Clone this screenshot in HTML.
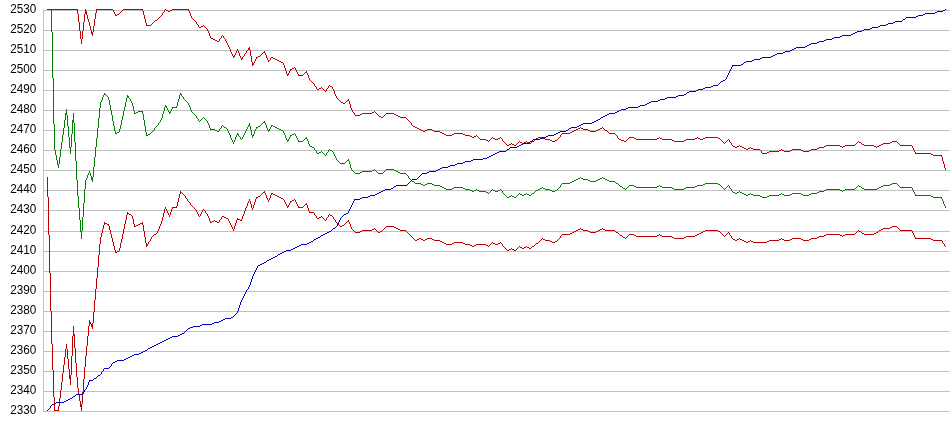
<!DOCTYPE html>
<html><head><meta charset="utf-8"><title>chart</title>
<style>
html,body{margin:0;padding:0;background:#fff;}
body{width:950px;height:435px;overflow:hidden;}
svg{display:block;will-change:transform;}
text{font-family:"Liberation Sans",sans-serif;font-size:12px;fill:#000;}
</style></head><body>
<svg width="950" height="435" viewBox="0 0 950 435">
<rect width="950" height="435" fill="#fff"/>
<g shape-rendering="crispEdges" fill="#c0c0c0">
<rect x="43" y="10" width="907" height="1"/>
<rect x="43" y="30" width="907" height="1"/>
<rect x="43" y="50" width="907" height="1"/>
<rect x="43" y="70" width="907" height="1"/>
<rect x="43" y="90" width="907" height="1"/>
<rect x="43" y="110" width="907" height="1"/>
<rect x="43" y="130" width="907" height="1"/>
<rect x="43" y="150" width="907" height="1"/>
<rect x="43" y="170" width="907" height="1"/>
<rect x="43" y="190" width="907" height="1"/>
<rect x="43" y="210" width="907" height="1"/>
<rect x="43" y="231" width="907" height="1"/>
<rect x="43" y="251" width="907" height="1"/>
<rect x="43" y="271" width="907" height="1"/>
<rect x="43" y="291" width="907" height="1"/>
<rect x="43" y="311" width="907" height="1"/>
<rect x="43" y="331" width="907" height="1"/>
<rect x="43" y="351" width="907" height="1"/>
<rect x="43" y="371" width="907" height="1"/>
<rect x="43" y="391" width="907" height="1"/>
<rect x="43" y="411" width="907" height="1"/>
<rect x="43" y="10" width="1" height="402"/>
</g>
<g>
<text x="10.3" y="13" textLength="26.1" lengthAdjust="spacingAndGlyphs">2530</text>
<text x="10.3" y="33" textLength="26.1" lengthAdjust="spacingAndGlyphs">2520</text>
<text x="10.3" y="53" textLength="26.1" lengthAdjust="spacingAndGlyphs">2510</text>
<text x="10.3" y="73" textLength="26.1" lengthAdjust="spacingAndGlyphs">2500</text>
<text x="10.3" y="93" textLength="26.1" lengthAdjust="spacingAndGlyphs">2490</text>
<text x="10.3" y="113" textLength="26.1" lengthAdjust="spacingAndGlyphs">2480</text>
<text x="10.3" y="133" textLength="26.1" lengthAdjust="spacingAndGlyphs">2470</text>
<text x="10.3" y="153" textLength="26.1" lengthAdjust="spacingAndGlyphs">2460</text>
<text x="10.3" y="173" textLength="26.1" lengthAdjust="spacingAndGlyphs">2450</text>
<text x="10.3" y="193" textLength="26.1" lengthAdjust="spacingAndGlyphs">2440</text>
<text x="10.3" y="213" textLength="26.1" lengthAdjust="spacingAndGlyphs">2430</text>
<text x="10.3" y="234" textLength="26.1" lengthAdjust="spacingAndGlyphs">2420</text>
<text x="10.3" y="254" textLength="26.1" lengthAdjust="spacingAndGlyphs">2410</text>
<text x="10.3" y="274" textLength="26.1" lengthAdjust="spacingAndGlyphs">2400</text>
<text x="10.3" y="294" textLength="26.1" lengthAdjust="spacingAndGlyphs">2390</text>
<text x="10.3" y="314" textLength="26.1" lengthAdjust="spacingAndGlyphs">2380</text>
<text x="10.3" y="334" textLength="26.1" lengthAdjust="spacingAndGlyphs">2370</text>
<text x="10.3" y="354" textLength="26.1" lengthAdjust="spacingAndGlyphs">2360</text>
<text x="10.3" y="374" textLength="26.1" lengthAdjust="spacingAndGlyphs">2350</text>
<text x="10.3" y="394" textLength="26.1" lengthAdjust="spacingAndGlyphs">2340</text>
<text x="10.3" y="414" textLength="26.1" lengthAdjust="spacingAndGlyphs">2330</text>
</g>
<g shape-rendering="crispEdges" stroke="none">
<path fill="#008000" d="M51 9h1v23h-1zM52 32h1v46h-1zM53 78h1v46h-1zM54 124h1v24h-1zM54 147h1v3h-1zM55 150h1v5h-1zM56 155h1v5h-1zM57 160h1v5h-1zM58 164h1v4h-1zM58 165h1v3h-1zM59 157h1v7h-1zM60 149h1v8h-1zM61 142h1v7h-1zM62 135h1v7h-1zM63 128h1v7h-1zM64 120h1v8h-1zM65 113h1v7h-1zM66 109h1v4h-1zM66 109h1v6h-1zM67 115h1v11h-1zM68 126h1v11h-1zM69 137h1v11h-1zM70 147h1v7h-1zM70 148h1v6h-1zM71 134h1v13h-1zM72 120h1v14h-1zM73 113h1v7h-1zM73 113h1v10h-1zM74 123h1v19h-1zM75 142h1v19h-1zM76 161h1v19h-1zM77 180h1v10h-1zM77 189h1v7h-1zM78 196h1v12h-1zM79 208h1v12h-1zM80 220h1v12h-1zM81 231h1v8h-1zM81 232h1v7h-1zM82 217h1v14h-1zM83 203h1v14h-1zM84 189h1v14h-1zM85 180h1v2h-1zM85 181h1v8h-1zM86 178h1v2h-1zM87 175h1v3h-1zM88 173h1v2h-1zM89 171h1v2h-1zM90 173h1v3h-1zM91 176h1v4h-1zM92 177h1v5h-1zM92 180h1v2h-1zM93 167h1v10h-1zM94 157h1v10h-1zM95 147h1v10h-1zM96 138h1v9h-1zM97 128h1v10h-1zM98 118h1v10h-1zM99 108h1v10h-1zM100 102h1v2h-1zM100 103h1v5h-1zM101 100h1v2h-1zM102 97h1v3h-1zM103 95h1v2h-1zM104 93h1v1h-1zM104 93h1v2h-1zM105 94h1v1h-1zM106 95h1v1h-1zM107 96h1v1h-1zM108 97h1v1h-1zM108 97h1v3h-1zM109 100h1v5h-1zM110 105h1v5h-1zM111 110h1v5h-1zM112 115h1v6h-1zM113 121h1v5h-1zM114 126h1v5h-1zM115 131h1v3h-1zM115 133h2v1h-2zM117 132h2v1h-2zM119 129h1v3h-1zM119 131h1v1h-1zM120 125h1v4h-1zM121 120h1v5h-1zM122 116h1v4h-1zM123 111h1v5h-1zM124 107h1v4h-1zM125 102h1v5h-1zM126 98h1v4h-1zM127 95h1v1h-1zM127 95h1v3h-1zM128 96h1v2h-1zM129 98h1v1h-1zM130 99h1v2h-1zM131 101h1v2h-1zM132 103h1v1h-1zM132 103h1v3h-1zM133 106h1v5h-1zM134 111h1v3h-1zM134 113h2v1h-2zM136 112h2v1h-2zM138 111h1v1h-1zM138 111h5v1h-5zM142 111h1v3h-1zM143 114h1v6h-1zM144 120h1v6h-1zM145 126h1v6h-1zM146 132h1v4h-1zM146 135h2v1h-2zM148 134h2v1h-2zM150 133h1v1h-1zM151 132h1v1h-1zM152 131h1v1h-1zM153 130h1v1h-1zM154 128h1v2h-1zM155 127h1v1h-1zM156 126h1v1h-1zM157 125h1v1h-1zM158 123h1v2h-1zM159 122h1v1h-1zM160 120h1v2h-1zM161 118h1v2h-1zM161 119h1v1h-1zM162 114h1v4h-1zM163 111h1v3h-1zM164 107h1v4h-1zM165 105h1v1h-1zM165 105h1v2h-1zM166 106h1v2h-1zM167 108h1v2h-1zM168 110h1v2h-1zM169 112h1v2h-1zM169 113h1v1h-1zM170 111h1v2h-1zM171 109h1v2h-1zM172 107h1v2h-1zM172 107h5v1h-5zM176 106h1v2h-1zM177 102h1v4h-1zM178 99h1v3h-1zM179 95h1v4h-1zM180 93h1v1h-1zM180 93h1v2h-1zM181 94h1v2h-1zM182 96h1v1h-1zM183 97h1v2h-1zM184 99h1v1h-1zM185 100h1v1h-1zM186 101h1v1h-1zM187 102h1v1h-1zM188 103h1v1h-1zM188 103h1v2h-1zM189 105h1v2h-1zM190 107h1v3h-1zM191 110h1v2h-1zM191 111h1v1h-1zM192 112h1v1h-1zM193 113h1v1h-1zM194 114h1v1h-1zM195 115h1v1h-1zM196 116h1v2h-1zM197 118h1v1h-1zM198 119h1v2h-1zM199 121h1v1h-1zM200 120h1v1h-1zM201 119h1v1h-1zM202 118h1v1h-1zM203 117h1v1h-1zM204 118h1v1h-1zM205 119h1v1h-1zM206 120h1v1h-1zM207 121h1v1h-1zM207 121h1v2h-1zM208 123h1v2h-1zM209 125h1v3h-1zM210 128h1v2h-1zM210 129h5v1h-5zM214 129h1v1h-1zM215 130h2v1h-2zM217 131h2v1h-2zM218 131h1v1h-1zM219 129h1v2h-1zM220 128h1v1h-1zM221 126h1v2h-1zM222 125h1v1h-1zM223 126h1v1h-1zM224 127h2v1h-2zM226 128h1v1h-1zM227 129h1v1h-1zM227 129h1v2h-1zM228 131h1v2h-1zM229 133h1v2h-1zM230 135h1v3h-1zM231 138h1v2h-1zM232 140h1v2h-1zM233 142h1v2h-1zM234 140h1v2h-1zM235 137h1v3h-1zM236 135h1v2h-1zM237 133h1v1h-1zM237 133h1v2h-1zM238 134h1v2h-1zM239 136h1v1h-1zM240 137h1v2h-1zM241 139h1v1h-1zM242 137h1v2h-1zM243 135h1v2h-1zM244 133h1v2h-1zM245 131h1v2h-1zM246 129h1v2h-1zM247 127h1v2h-1zM248 125h1v2h-1zM249 123h1v2h-1zM249 123h1v3h-1zM250 126h1v4h-1zM251 130h1v5h-1zM252 135h1v3h-1zM252 136h1v2h-1zM253 134h1v2h-1zM254 131h1v3h-1zM255 129h1v2h-1zM256 127h1v2h-1zM256 127h2v1h-2zM258 126h2v1h-2zM260 125h1v1h-1zM261 124h1v1h-1zM262 123h1v1h-1zM263 122h1v1h-1zM264 121h1v1h-1zM264 121h1v2h-1zM265 123h1v2h-1zM266 125h1v3h-1zM267 128h1v2h-1zM268 130h1v2h-1zM268 131h1v1h-1zM269 129h1v2h-1zM270 127h1v2h-1zM271 125h1v2h-1zM271 125h2v1h-2zM273 126h2v1h-2zM275 127h2v1h-2zM276 127h1v1h-1zM277 128h2v1h-2zM279 129h2v1h-2zM281 130h2v1h-2zM283 131h1v1h-1zM283 131h1v2h-1zM284 133h1v2h-1zM285 135h1v3h-1zM286 138h1v2h-1zM287 140h1v2h-1zM287 141h1v1h-1zM288 139h1v2h-1zM289 137h1v2h-1zM290 135h1v2h-1zM290 135h2v1h-2zM292 134h2v1h-2zM294 133h1v1h-1zM295 134h1v2h-1zM296 136h1v2h-1zM297 138h1v2h-1zM298 140h1v2h-1zM298 141h5v1h-5zM302 141h1v1h-1zM303 140h1v1h-1zM304 139h1v1h-1zM305 138h1v1h-1zM306 137h1v1h-1zM306 137h1v2h-1zM307 139h1v2h-1zM308 141h1v3h-1zM309 144h1v2h-1zM309 145h1v1h-1zM310 146h2v1h-2zM312 147h2v1h-2zM313 147h1v1h-1zM314 148h1v2h-1zM315 150h1v1h-1zM316 151h1v2h-1zM317 153h1v1h-1zM317 153h2v1h-2zM319 152h2v1h-2zM321 151h1v1h-1zM322 152h1v1h-1zM323 153h1v1h-1zM324 154h1v1h-1zM325 155h1v1h-1zM326 153h1v2h-1zM327 152h1v1h-1zM328 150h1v2h-1zM329 149h1v1h-1zM330 150h2v1h-2zM332 151h1v1h-1zM333 152h1v2h-1zM334 154h1v2h-1zM335 156h1v2h-1zM336 158h1v2h-1zM336 159h1v1h-1zM337 160h1v1h-1zM338 161h1v1h-1zM339 162h1v1h-1zM340 163h1v1h-1zM340 163h5v1h-5zM344 163h1v1h-1zM345 162h1v1h-1zM346 161h1v1h-1zM347 160h1v1h-1zM348 159h1v1h-1zM348 159h1v2h-1zM349 161h1v3h-1zM350 164h1v4h-1zM351 168h1v2h-1zM351 169h1v1h-1zM352 170h1v1h-1zM353 171h1v1h-1zM354 172h1v1h-1zM355 173h1v1h-1zM355 173h4v1h-4zM358 173h2v1h-2zM360 172h2v1h-2zM362 171h1v1h-1zM362 171h9v1h-9zM370 171h2v1h-2zM372 170h2v1h-2zM374 169h1v1h-1zM375 170h1v1h-1zM376 171h1v1h-1zM377 172h1v1h-1zM378 173h1v1h-1zM378 173h5v1h-5zM382 173h1v1h-1zM383 172h1v1h-1zM384 171h1v1h-1zM385 170h1v1h-1zM386 169h1v1h-1zM386 169h8v1h-8zM393 169h1v1h-1zM394 170h2v1h-2zM396 171h2v1h-2zM398 172h2v1h-2zM400 173h1v1h-1zM400 173h6v1h-6zM405 173h1v1h-1zM406 174h1v1h-1zM407 175h1v1h-1zM408 176h1v2h-1zM409 178h1v1h-1zM410 179h1v1h-1zM411 180h1v1h-1zM412 181h2v1h-2zM414 182h1v1h-1zM415 183h1v1h-1zM415 183h6v1h-6zM420 183h1v1h-1zM421 184h2v1h-2zM423 185h2v1h-2zM424 185h1v1h-1zM425 184h2v1h-2zM427 183h1v1h-1zM427 183h5v1h-5zM431 183h1v1h-1zM432 184h2v1h-2zM434 185h2v1h-2zM435 185h5v1h-5zM439 185h1v1h-1zM440 186h2v1h-2zM442 187h2v1h-2zM444 188h2v1h-2zM446 189h1v1h-1zM446 189h5v1h-5zM450 189h2v1h-2zM452 188h2v1h-2zM454 187h1v1h-1zM454 187h9v1h-9zM462 187h1v1h-1zM463 188h2v1h-2zM465 189h1v1h-1zM465 189h5v1h-5zM469 189h1v1h-1zM470 190h2v1h-2zM472 191h2v1h-2zM473 191h1v1h-1zM474 190h2v1h-2zM476 189h1v1h-1zM477 190h2v1h-2zM479 191h2v1h-2zM480 191h6v1h-6zM485 191h1v1h-1zM486 192h2v1h-2zM488 193h1v1h-1zM489 192h1v1h-1zM490 191h1v1h-1zM491 190h1v1h-1zM492 189h1v1h-1zM493 190h2v1h-2zM495 191h2v1h-2zM496 191h2v1h-2zM498 190h2v1h-2zM500 189h1v1h-1zM501 190h1v1h-1zM502 191h1v2h-1zM503 193h1v1h-1zM504 194h1v1h-1zM505 195h1v1h-1zM506 196h1v1h-1zM507 197h1v1h-1zM507 197h2v1h-2zM509 196h2v1h-2zM511 195h1v1h-1zM512 196h2v1h-2zM514 197h2v1h-2zM515 197h1v1h-1zM516 196h1v1h-1zM517 195h1v1h-1zM518 194h1v1h-1zM519 193h1v1h-1zM520 194h2v1h-2zM522 195h1v1h-1zM522 195h2v1h-2zM524 194h2v1h-2zM526 193h1v1h-1zM527 194h2v1h-2zM529 195h2v1h-2zM530 195h1v1h-1zM531 194h1v1h-1zM532 193h2v1h-2zM534 192h1v1h-1zM535 191h1v1h-1zM536 190h2v1h-2zM538 189h2v1h-2zM540 188h2v1h-2zM542 187h1v1h-1zM543 188h2v1h-2zM545 189h1v1h-1zM545 189h5v1h-5zM549 189h1v1h-1zM550 190h2v1h-2zM552 191h2v1h-2zM553 191h2v1h-2zM555 190h2v1h-2zM557 189h1v1h-1zM558 188h1v1h-1zM559 187h1v1h-1zM560 185h1v2h-1zM561 184h1v1h-1zM562 183h1v1h-1zM562 183h4v1h-4zM565 183h4v1h-4zM568 183h2v1h-2zM570 182h2v1h-2zM572 181h2v1h-2zM574 180h2v1h-2zM576 179h2v1h-2zM578 178h2v1h-2zM580 177h1v1h-1zM581 178h2v1h-2zM583 179h1v1h-1zM583 179h5v1h-5zM587 179h1v1h-1zM588 180h2v1h-2zM590 181h1v1h-1zM590 181h6v1h-6zM595 181h1v1h-1zM596 180h2v1h-2zM598 179h2v1h-2zM600 178h2v1h-2zM602 177h1v1h-1zM603 178h2v1h-2zM605 179h2v1h-2zM606 179h1v1h-1zM607 180h2v1h-2zM609 181h1v1h-1zM609 181h6v1h-6zM614 181h1v1h-1zM615 182h1v1h-1zM616 183h2v1h-2zM618 184h1v1h-1zM619 185h1v1h-1zM620 186h2v1h-2zM622 187h1v1h-1zM623 188h2v1h-2zM625 189h1v1h-1zM626 188h1v1h-1zM627 187h1v1h-1zM628 186h1v1h-1zM629 185h1v1h-1zM629 185h5v1h-5zM633 185h1v1h-1zM634 186h2v1h-2zM636 187h1v1h-1zM636 187h20v1h-20zM655 187h2v1h-2zM657 186h2v1h-2zM659 185h1v1h-1zM660 186h2v1h-2zM662 187h2v1h-2zM663 187h9v1h-9zM671 187h1v1h-1zM672 188h2v1h-2zM674 189h1v1h-1zM674 189h10v1h-10zM683 189h1v1h-1zM684 188h2v1h-2zM686 187h1v1h-1zM686 187h9v1h-9zM694 187h1v1h-1zM695 186h2v1h-2zM697 185h1v1h-1zM697 185h5v1h-5zM701 185h2v1h-2zM703 184h2v1h-2zM705 183h1v1h-1zM705 183h13v1h-13zM717 183h1v1h-1zM718 184h2v1h-2zM720 185h1v1h-1zM721 186h1v1h-1zM722 187h1v1h-1zM723 188h1v1h-1zM724 189h1v1h-1zM725 188h1v1h-1zM726 187h1v1h-1zM727 186h1v1h-1zM728 185h1v1h-1zM729 186h1v2h-1zM730 188h1v1h-1zM731 189h1v2h-1zM732 191h1v1h-1zM733 192h2v1h-2zM735 193h2v1h-2zM736 193h1v1h-1zM737 192h2v1h-2zM739 191h1v1h-1zM740 192h2v1h-2zM742 193h2v1h-2zM744 194h2v1h-2zM746 195h1v1h-1zM746 195h2v1h-2zM748 194h2v1h-2zM750 193h1v1h-1zM751 194h2v1h-2zM753 195h2v1h-2zM754 195h6v1h-6zM759 195h1v1h-1zM760 196h2v1h-2zM762 197h1v1h-1zM762 197h5v1h-5zM766 197h1v1h-1zM767 196h2v1h-2zM769 195h1v1h-1zM769 195h10v1h-10zM778 195h1v1h-1zM779 194h2v1h-2zM781 193h1v1h-1zM782 194h2v1h-2zM784 195h2v1h-2zM785 195h5v1h-5zM789 195h1v1h-1zM790 194h2v1h-2zM792 193h1v1h-1zM792 193h9v1h-9zM800 193h1v1h-1zM801 194h2v1h-2zM803 195h2v1h-2zM804 195h4v1h-4zM807 195h2v1h-2zM809 194h2v1h-2zM811 193h2v1h-2zM812 193h4v1h-4zM815 193h2v1h-2zM817 192h2v1h-2zM819 191h1v1h-1zM819 191h5v1h-5zM823 191h1v1h-1zM824 190h2v1h-2zM826 189h1v1h-1zM826 189h14v1h-14zM839 189h1v1h-1zM840 190h2v1h-2zM842 191h1v1h-1zM843 190h2v1h-2zM845 189h1v1h-1zM845 189h10v1h-10zM854 189h1v1h-1zM855 188h1v1h-1zM856 187h1v1h-1zM857 186h1v1h-1zM858 185h1v1h-1zM859 186h2v1h-2zM861 187h1v1h-1zM862 188h2v1h-2zM864 189h1v1h-1zM864 189h13v1h-13zM876 189h1v1h-1zM877 188h2v1h-2zM879 187h2v1h-2zM881 186h2v1h-2zM883 185h1v1h-1zM883 185h6v1h-6zM888 185h2v1h-2zM890 184h2v1h-2zM892 183h1v1h-1zM892 183h5v1h-5zM896 183h1v1h-1zM897 184h1v1h-1zM898 185h1v1h-1zM899 186h1v1h-1zM900 187h1v1h-1zM900 187h12v1h-12zM911 187h1v1h-1zM912 188h1v2h-1zM913 190h1v2h-1zM914 192h1v2h-1zM915 194h1v2h-1zM915 195h16v1h-16zM930 195h1v1h-1zM931 196h2v1h-2zM933 197h1v1h-1zM933 197h9v1h-9zM941 197h1v2h-1zM942 199h1v2h-1zM943 201h1v3h-1zM944 204h1v2h-1zM945 206h1v2h-1z"/>
<path fill="#c00000" d="M47 9h31v1h-31zM77 9h1v5h-1zM78 14h1v8h-1zM79 22h1v9h-1zM80 31h1v8h-1zM81 39h1v5h-1zM82 31h1v8h-1zM83 22h1v9h-1zM84 14h1v8h-1zM85 9h1v2h-1zM85 9h1v5h-1zM86 11h1v4h-1zM87 15h1v4h-1zM88 19h1v3h-1zM89 22h1v4h-1zM90 26h1v4h-1zM91 30h1v4h-1zM92 32h1v4h-1zM92 34h1v2h-1zM93 26h1v6h-1zM94 19h1v7h-1zM95 13h1v6h-1zM96 9h1v4h-1zM96 9h17v1h-17zM112 9h1v1h-1zM113 10h1v2h-1zM114 12h1v2h-1zM115 14h1v2h-1zM115 15h2v1h-2zM117 14h2v1h-2zM119 13h1v1h-1zM120 12h1v1h-1zM121 11h1v1h-1zM122 10h1v1h-1zM123 9h1v1h-1zM123 9h20v1h-20zM142 9h1v2h-1zM143 11h1v4h-1zM144 15h1v4h-1zM145 19h1v4h-1zM146 23h1v3h-1zM146 25h5v1h-5zM150 25h1v1h-1zM151 24h1v1h-1zM152 23h1v1h-1zM153 22h1v1h-1zM154 21h1v1h-1zM155 20h2v1h-2zM157 19h1v1h-1zM158 18h1v1h-1zM159 17h1v1h-1zM160 16h1v1h-1zM161 15h1v1h-1zM162 13h1v2h-1zM163 12h1v1h-1zM164 10h1v2h-1zM165 9h1v1h-1zM166 10h2v1h-2zM168 11h2v1h-2zM169 11h1v1h-1zM170 10h2v1h-2zM172 9h1v1h-1zM172 9h17v1h-17zM188 9h1v2h-1zM189 11h1v2h-1zM190 13h1v3h-1zM191 16h1v2h-1zM191 17h1v1h-1zM192 18h1v1h-1zM193 19h1v1h-1zM194 20h1v1h-1zM195 21h1v1h-1zM196 22h1v2h-1zM197 24h1v1h-1zM198 25h1v2h-1zM199 27h1v1h-1zM199 27h2v1h-2zM201 26h2v1h-2zM203 25h1v1h-1zM204 26h1v1h-1zM205 27h1v1h-1zM206 28h1v1h-1zM207 29h1v1h-1zM207 29h1v2h-1zM208 31h1v2h-1zM209 33h1v3h-1zM210 36h1v2h-1zM210 37h1v1h-1zM211 38h2v1h-2zM213 39h2v1h-2zM215 40h2v1h-2zM217 41h2v1h-2zM218 41h1v1h-1zM219 39h1v2h-1zM220 38h1v1h-1zM221 36h1v2h-1zM222 35h1v1h-1zM223 36h1v2h-1zM224 38h1v1h-1zM225 39h1v2h-1zM226 41h1v2h-1zM227 43h1v1h-1zM227 43h1v2h-1zM228 45h1v2h-1zM229 47h1v2h-1zM230 49h1v3h-1zM231 52h1v2h-1zM232 54h1v2h-1zM233 56h1v2h-1zM233 57h1v1h-1zM234 55h1v2h-1zM235 53h1v2h-1zM236 51h1v2h-1zM237 49h1v2h-1zM238 51h1v2h-1zM239 53h1v3h-1zM240 56h1v2h-1zM241 58h1v2h-1zM241 59h1v1h-1zM242 57h1v2h-1zM243 56h1v1h-1zM244 54h1v2h-1zM245 53h1v1h-1zM246 51h1v2h-1zM247 50h1v1h-1zM248 48h1v2h-1zM249 47h1v1h-1zM249 47h1v3h-1zM250 50h1v6h-1zM251 56h1v6h-1zM252 62h1v4h-1zM252 65h1v1h-1zM253 63h1v2h-1zM254 61h1v2h-1zM255 59h1v2h-1zM256 57h1v2h-1zM256 57h2v1h-2zM258 56h2v1h-2zM260 55h1v1h-1zM261 54h1v1h-1zM262 53h1v1h-1zM263 52h1v1h-1zM264 51h1v1h-1zM264 51h1v2h-1zM265 53h1v2h-1zM266 55h1v3h-1zM267 58h1v2h-1zM268 60h1v2h-1zM268 61h1v1h-1zM269 60h1v1h-1zM270 58h1v2h-1zM271 57h1v1h-1zM271 57h2v1h-2zM273 58h2v1h-2zM275 59h2v1h-2zM276 59h1v1h-1zM277 60h2v1h-2zM279 61h2v1h-2zM281 62h2v1h-2zM283 63h1v1h-1zM283 63h1v2h-1zM284 65h1v3h-1zM285 68h1v3h-1zM286 71h1v3h-1zM287 74h1v2h-1zM287 75h1v1h-1zM288 73h1v2h-1zM289 71h1v2h-1zM290 69h1v2h-1zM290 69h2v1h-2zM292 68h2v1h-2zM294 67h1v1h-1zM295 68h1v2h-1zM296 70h1v2h-1zM297 72h1v2h-1zM298 74h1v2h-1zM298 75h5v1h-5zM302 75h1v1h-1zM303 74h1v1h-1zM304 73h1v1h-1zM305 72h1v1h-1zM306 71h1v1h-1zM306 71h1v2h-1zM307 73h1v2h-1zM308 75h1v3h-1zM309 78h1v2h-1zM309 79h1v1h-1zM310 80h1v1h-1zM311 81h1v1h-1zM312 82h1v1h-1zM313 83h1v1h-1zM314 84h1v2h-1zM315 86h1v1h-1zM316 87h1v2h-1zM317 89h1v1h-1zM317 89h2v1h-2zM319 88h2v1h-2zM321 87h1v1h-1zM322 88h1v1h-1zM323 89h1v1h-1zM324 90h1v1h-1zM325 91h1v1h-1zM326 89h1v2h-1zM327 88h1v1h-1zM328 86h1v2h-1zM329 85h1v1h-1zM330 86h2v1h-2zM332 87h1v1h-1zM332 87h1v2h-1zM333 89h1v2h-1zM334 91h1v3h-1zM335 94h1v2h-1zM336 96h1v2h-1zM336 97h1v1h-1zM337 98h1v1h-1zM338 99h1v1h-1zM339 100h1v1h-1zM340 101h1v1h-1zM341 102h2v1h-2zM343 103h2v1h-2zM344 103h1v1h-1zM345 102h1v1h-1zM346 101h1v1h-1zM347 100h1v1h-1zM348 99h1v1h-1zM348 99h1v2h-1zM349 101h1v3h-1zM350 104h1v4h-1zM351 108h1v2h-1zM351 109h1v1h-1zM352 110h1v2h-1zM353 112h1v1h-1zM354 113h1v2h-1zM355 115h1v1h-1zM355 115h4v1h-4zM358 115h2v1h-2zM360 114h2v1h-2zM362 113h1v1h-1zM362 113h9v1h-9zM370 113h2v1h-2zM372 112h2v1h-2zM374 111h1v1h-1zM375 112h1v1h-1zM376 113h1v1h-1zM377 114h1v1h-1zM378 115h1v1h-1zM379 116h2v1h-2zM381 117h2v1h-2zM382 117h1v1h-1zM383 116h1v1h-1zM384 115h1v1h-1zM385 114h1v1h-1zM386 113h1v1h-1zM386 113h8v1h-8zM393 113h1v1h-1zM394 114h2v1h-2zM396 115h2v1h-2zM398 116h2v1h-2zM400 117h1v1h-1zM400 117h6v1h-6zM405 117h1v1h-1zM406 118h1v1h-1zM407 119h1v1h-1zM408 120h1v1h-1zM409 121h1v1h-1zM410 122h1v1h-1zM411 123h1v2h-1zM412 125h1v1h-1zM413 126h2v1h-2zM415 127h2v1h-2zM417 128h2v1h-2zM419 129h2v1h-2zM420 129h1v1h-1zM421 130h2v1h-2zM423 131h2v1h-2zM424 131h1v1h-1zM425 130h2v1h-2zM427 129h1v1h-1zM427 129h5v1h-5zM431 129h1v1h-1zM432 130h2v1h-2zM434 131h2v1h-2zM435 131h5v1h-5zM439 131h1v1h-1zM440 132h2v1h-2zM442 133h2v1h-2zM444 134h2v1h-2zM446 135h1v1h-1zM446 135h5v1h-5zM450 135h2v1h-2zM452 134h2v1h-2zM454 133h1v1h-1zM454 133h9v1h-9zM462 133h1v1h-1zM463 134h2v1h-2zM465 135h1v1h-1zM465 135h5v1h-5zM469 135h1v1h-1zM470 136h2v1h-2zM472 137h2v1h-2zM473 137h1v1h-1zM474 136h2v1h-2zM476 135h1v1h-1zM477 136h1v1h-1zM478 137h1v1h-1zM479 138h1v1h-1zM480 139h1v1h-1zM480 139h6v1h-6zM485 139h1v1h-1zM486 140h2v1h-2zM488 141h1v1h-1zM489 140h1v1h-1zM490 139h1v1h-1zM491 138h1v1h-1zM492 137h1v1h-1zM493 138h2v1h-2zM495 139h2v1h-2zM496 139h2v1h-2zM498 138h2v1h-2zM500 137h1v1h-1zM501 138h1v1h-1zM502 139h1v2h-1zM503 141h1v1h-1zM504 142h1v1h-1zM505 143h1v1h-1zM506 144h1v1h-1zM507 145h1v1h-1zM507 145h2v1h-2zM509 144h2v1h-2zM511 143h1v1h-1zM512 144h2v1h-2zM514 145h2v1h-2zM515 145h1v1h-1zM516 144h1v1h-1zM517 143h1v1h-1zM518 142h1v1h-1zM519 141h1v1h-1zM520 142h2v1h-2zM522 143h1v1h-1zM522 143h2v1h-2zM524 142h2v1h-2zM526 141h1v1h-1zM527 142h2v1h-2zM529 143h2v1h-2zM530 143h1v1h-1zM531 142h1v1h-1zM532 141h2v1h-2zM534 140h1v1h-1zM535 139h1v1h-1zM536 138h2v1h-2zM538 137h1v1h-1zM538 137h5v1h-5zM542 137h1v1h-1zM543 138h2v1h-2zM545 139h1v1h-1zM545 139h5v1h-5zM549 139h1v1h-1zM550 140h2v1h-2zM552 141h2v1h-2zM553 141h2v1h-2zM555 140h2v1h-2zM557 139h1v1h-1zM558 138h1v1h-1zM559 137h1v1h-1zM560 135h1v2h-1zM561 134h1v1h-1zM562 133h1v1h-1zM562 133h7v1h-7zM568 133h2v1h-2zM570 132h2v1h-2zM572 131h2v1h-2zM574 130h2v1h-2zM576 129h2v1h-2zM578 128h2v1h-2zM580 127h1v1h-1zM581 128h2v1h-2zM583 129h1v1h-1zM583 129h5v1h-5zM587 129h1v1h-1zM588 130h2v1h-2zM590 131h1v1h-1zM590 131h6v1h-6zM595 131h1v1h-1zM596 130h2v1h-2zM598 129h2v1h-2zM600 128h2v1h-2zM602 127h1v1h-1zM603 128h1v1h-1zM604 129h1v1h-1zM605 130h2v1h-2zM607 131h1v1h-1zM608 132h1v1h-1zM609 133h1v1h-1zM609 133h6v1h-6zM614 133h1v1h-1zM615 134h1v1h-1zM616 135h1v1h-1zM617 136h1v2h-1zM618 138h1v1h-1zM619 139h1v1h-1zM619 139h2v1h-2zM621 140h3v1h-3zM624 141h2v1h-2zM625 141h1v1h-1zM626 140h1v1h-1zM627 139h1v1h-1zM628 138h1v1h-1zM629 137h1v1h-1zM629 137h5v1h-5zM633 137h1v1h-1zM634 138h2v1h-2zM636 139h1v1h-1zM636 139h20v1h-20zM655 139h2v1h-2zM657 138h2v1h-2zM659 137h1v1h-1zM660 138h2v1h-2zM662 139h2v1h-2zM663 139h9v1h-9zM671 139h1v1h-1zM672 140h2v1h-2zM674 141h1v1h-1zM674 141h10v1h-10zM683 141h1v1h-1zM684 140h2v1h-2zM686 139h1v1h-1zM686 139h9v1h-9zM694 139h1v1h-1zM695 138h2v1h-2zM697 137h1v1h-1zM698 138h2v1h-2zM700 139h2v1h-2zM701 139h2v1h-2zM703 138h2v1h-2zM705 137h1v1h-1zM705 137h13v1h-13zM717 137h1v1h-1zM718 138h2v1h-2zM720 139h1v1h-1zM721 140h1v1h-1zM722 141h1v1h-1zM723 142h1v1h-1zM724 143h1v1h-1zM725 142h1v1h-1zM726 141h1v1h-1zM727 140h1v1h-1zM728 139h1v1h-1zM729 140h1v2h-1zM730 142h1v1h-1zM731 143h1v2h-1zM732 145h1v1h-1zM733 146h2v1h-2zM735 147h2v1h-2zM736 147h1v1h-1zM737 146h2v1h-2zM739 145h1v1h-1zM740 146h2v1h-2zM742 147h2v1h-2zM744 148h2v1h-2zM746 149h1v1h-1zM746 149h2v1h-2zM748 148h2v1h-2zM750 147h1v1h-1zM751 148h2v1h-2zM753 149h2v1h-2zM754 149h6v1h-6zM759 149h1v1h-1zM760 150h1v1h-1zM761 151h1v2h-1zM762 153h1v1h-1zM762 153h5v1h-5zM766 153h1v1h-1zM767 152h2v1h-2zM769 151h1v1h-1zM769 151h10v1h-10zM778 151h1v1h-1zM779 150h2v1h-2zM781 149h1v1h-1zM782 150h2v1h-2zM784 151h2v1h-2zM785 151h5v1h-5zM789 151h1v1h-1zM790 150h2v1h-2zM792 149h1v1h-1zM792 149h9v1h-9zM800 149h1v1h-1zM801 150h2v1h-2zM803 151h2v1h-2zM804 151h4v1h-4zM807 151h2v1h-2zM809 150h2v1h-2zM811 149h2v1h-2zM812 149h4v1h-4zM815 149h2v1h-2zM817 148h2v1h-2zM819 147h1v1h-1zM819 147h5v1h-5zM823 147h1v1h-1zM824 146h2v1h-2zM826 145h1v1h-1zM826 145h14v1h-14zM839 145h1v1h-1zM840 146h2v1h-2zM842 147h1v1h-1zM843 146h2v1h-2zM845 145h1v1h-1zM845 145h10v1h-10zM854 145h1v1h-1zM855 144h1v1h-1zM856 143h1v1h-1zM857 142h1v1h-1zM858 141h1v1h-1zM859 142h2v1h-2zM861 143h1v1h-1zM862 144h2v1h-2zM864 145h1v1h-1zM864 145h10v1h-10zM873 145h1v1h-1zM874 146h2v1h-2zM876 147h1v1h-1zM877 146h2v1h-2zM879 145h2v1h-2zM881 144h2v1h-2zM883 143h1v1h-1zM883 143h6v1h-6zM888 143h2v1h-2zM890 142h2v1h-2zM892 141h1v1h-1zM892 141h5v1h-5zM896 141h1v1h-1zM897 142h1v1h-1zM898 143h1v1h-1zM899 144h1v1h-1zM900 145h1v1h-1zM900 145h12v1h-12zM911 145h1v1h-1zM912 146h1v2h-1zM913 148h1v2h-1zM914 150h1v2h-1zM915 152h1v2h-1zM915 153h16v1h-16zM930 153h1v1h-1zM931 154h2v1h-2zM933 155h1v1h-1zM933 155h9v1h-9zM941 155h1v2h-1zM942 157h1v4h-1zM943 161h1v3h-1zM944 164h1v4h-1zM945 168h1v2h-1z"/>
<path fill="#c00000" d="M47 177h1v20h-1zM48 197h1v38h-1zM49 235h1v38h-1zM50 273h1v38h-1zM51 311h1v20h-1zM51 330h1v14h-1zM52 344h1v26h-1zM53 370h1v27h-1zM54 397h1v14h-1zM54 410h5v1h-5zM58 406h1v5h-1zM59 398h1v8h-1zM60 390h1v8h-1zM61 382h1v8h-1zM62 373h1v9h-1zM63 365h1v8h-1zM64 357h1v8h-1zM65 349h1v8h-1zM66 344h1v5h-1zM67 349h1v10h-1zM68 359h1v10h-1zM69 369h1v10h-1zM70 375h1v10h-1zM70 379h1v6h-1zM71 356h1v19h-1zM72 336h1v20h-1zM73 326h1v8h-1zM73 326h1v10h-1zM74 334h1v14h-1zM75 348h1v15h-1zM76 363h1v14h-1zM77 377h1v8h-1zM77 384h1v4h-1zM78 388h1v6h-1zM79 394h1v7h-1zM80 401h1v6h-1zM81 404h1v7h-1zM81 407h1v4h-1zM82 392h1v12h-1zM83 379h1v13h-1zM84 367h1v12h-1zM85 356h1v5h-1zM85 360h1v7h-1zM86 346h1v10h-1zM87 336h1v10h-1zM88 326h1v10h-1zM89 320h1v2h-1zM89 320h1v6h-1zM90 322h1v2h-1zM91 324h1v3h-1zM92 323h1v6h-1zM92 327h1v2h-1zM93 312h1v11h-1zM94 300h1v12h-1zM95 289h1v11h-1zM96 278h1v11h-1zM97 267h1v11h-1zM98 255h1v12h-1zM99 244h1v11h-1zM100 237h1v2h-1zM100 238h1v6h-1zM101 233h1v4h-1zM102 229h1v4h-1zM103 225h1v4h-1zM104 222h1v1h-1zM104 222h1v3h-1zM105 223h2v1h-2zM107 224h2v1h-2zM108 224h1v2h-1zM109 226h1v4h-1zM110 230h1v4h-1zM111 234h1v4h-1zM112 238h1v4h-1zM113 242h1v4h-1zM114 246h1v4h-1zM115 250h1v3h-1zM115 252h2v1h-2zM117 251h2v1h-2zM119 248h1v3h-1zM119 250h1v1h-1zM120 243h1v5h-1zM121 239h1v4h-1zM122 234h1v5h-1zM123 229h1v5h-1zM124 224h1v5h-1zM125 220h1v4h-1zM126 215h1v5h-1zM127 212h1v1h-1zM127 212h1v3h-1zM128 213h1v1h-1zM129 214h2v1h-2zM131 215h1v1h-1zM132 216h1v1h-1zM132 216h1v3h-1zM133 219h1v5h-1zM134 224h1v3h-1zM134 226h2v1h-2zM136 225h2v1h-2zM138 224h2v1h-2zM140 223h2v1h-2zM142 222h1v1h-1zM142 222h1v3h-1zM143 225h1v6h-1zM144 231h1v6h-1zM145 237h1v6h-1zM146 243h1v4h-1zM146 246h1v1h-1zM147 244h1v2h-1zM148 242h1v2h-1zM149 241h1v1h-1zM150 239h1v2h-1zM151 237h1v2h-1zM152 236h1v1h-1zM153 235h1v1h-1zM154 234h2v1h-2zM156 233h1v1h-1zM157 231h1v2h-1zM157 232h1v1h-1zM158 229h1v2h-1zM159 226h1v3h-1zM160 224h1v2h-1zM161 221h1v2h-1zM161 222h1v2h-1zM162 217h1v4h-1zM163 213h1v4h-1zM164 209h1v4h-1zM165 207h1v2h-1zM166 209h1v2h-1zM167 211h1v2h-1zM168 213h1v2h-1zM169 215h1v2h-1zM170 212h1v3h-1zM171 209h1v3h-1zM172 207h1v2h-1zM172 207h5v1h-5zM176 206h1v2h-1zM177 202h1v4h-1zM178 198h1v4h-1zM179 194h1v4h-1zM180 191h1v1h-1zM180 191h1v3h-1zM181 192h1v1h-1zM182 193h1v1h-1zM183 194h1v1h-1zM184 195h1v1h-1zM185 196h1v2h-1zM186 198h1v1h-1zM187 199h1v2h-1zM188 201h1v1h-1zM189 202h1v1h-1zM190 203h1v2h-1zM191 205h1v1h-1zM192 206h1v1h-1zM193 207h1v1h-1zM194 208h1v1h-1zM195 209h1v1h-1zM196 210h1v2h-1zM197 212h1v2h-1zM198 214h1v2h-1zM199 216h1v1h-1zM200 214h1v2h-1zM201 212h1v2h-1zM202 210h1v2h-1zM203 209h1v1h-1zM204 210h1v1h-1zM205 211h1v2h-1zM206 213h1v1h-1zM207 214h1v1h-1zM207 214h1v2h-1zM208 216h1v2h-1zM209 218h1v3h-1zM210 221h1v2h-1zM210 222h2v1h-2zM212 221h2v1h-2zM214 220h1v1h-1zM215 221h2v1h-2zM217 222h2v1h-2zM218 222h1v1h-1zM219 220h1v2h-1zM220 219h1v1h-1zM221 217h1v2h-1zM222 216h1v1h-1zM222 216h2v1h-2zM224 217h2v1h-2zM226 218h2v1h-2zM227 218h1v1h-1zM228 219h1v2h-1zM229 221h1v2h-1zM230 223h1v2h-1zM231 225h1v2h-1zM232 227h1v2h-1zM233 229h1v2h-1zM234 226h1v3h-1zM235 223h1v3h-1zM236 220h1v3h-1zM237 218h1v1h-1zM237 218h1v2h-1zM238 219h2v1h-2zM240 220h2v1h-2zM241 219h1v2h-1zM242 216h1v3h-1zM243 214h1v2h-1zM244 211h1v3h-1zM245 208h1v2h-1zM245 209h1v2h-1zM246 206h1v2h-1zM247 203h1v3h-1zM248 201h1v2h-1zM249 199h1v2h-1zM250 201h1v3h-1zM251 204h1v4h-1zM252 208h1v2h-1zM253 205h1v3h-1zM254 202h1v3h-1zM255 199h1v3h-1zM256 197h1v2h-1zM256 197h2v1h-2zM258 196h2v1h-2zM260 195h1v1h-1zM261 194h1v1h-1zM262 193h1v1h-1zM263 192h1v1h-1zM264 191h1v1h-1zM264 191h1v2h-1zM265 193h1v2h-1zM266 195h1v3h-1zM267 198h1v2h-1zM268 200h1v2h-1zM269 198h1v2h-1zM270 195h1v3h-1zM271 193h1v2h-1zM271 193h2v1h-2zM273 194h2v1h-2zM275 195h2v1h-2zM276 195h1v1h-1zM277 196h2v1h-2zM279 197h2v1h-2zM281 198h2v1h-2zM283 199h1v1h-1zM284 200h1v2h-1zM285 202h1v2h-1zM286 204h1v2h-1zM287 206h1v2h-1zM287 207h1v1h-1zM288 205h1v2h-1zM289 203h1v2h-1zM290 201h1v2h-1zM290 201h2v1h-2zM292 200h2v1h-2zM294 199h1v1h-1zM295 200h1v2h-1zM296 202h1v2h-1zM297 204h1v2h-1zM298 206h1v2h-1zM298 207h5v1h-5zM302 207h1v1h-1zM303 206h1v1h-1zM304 205h1v1h-1zM305 204h1v1h-1zM306 203h1v1h-1zM306 203h1v2h-1zM307 205h1v3h-1zM308 208h1v3h-1zM309 211h1v2h-1zM309 212h5v1h-5zM313 212h1v1h-1zM314 213h1v2h-1zM315 215h1v1h-1zM316 216h1v2h-1zM317 218h1v1h-1zM317 218h2v1h-2zM319 217h2v1h-2zM321 216h1v1h-1zM322 217h1v1h-1zM323 218h1v1h-1zM324 219h1v1h-1zM325 220h1v1h-1zM326 218h1v2h-1zM327 217h1v1h-1zM328 215h1v2h-1zM329 214h1v1h-1zM330 215h2v1h-2zM332 216h1v1h-1zM333 217h1v2h-1zM334 219h1v1h-1zM335 220h1v2h-1zM336 222h1v1h-1zM337 223h1v1h-1zM338 224h1v1h-1zM339 225h1v1h-1zM340 226h1v1h-1zM340 226h2v1h-2zM342 225h2v1h-2zM344 224h1v1h-1zM345 223h1v1h-1zM346 222h1v1h-1zM347 221h1v1h-1zM348 220h1v1h-1zM348 220h1v2h-1zM349 222h1v2h-1zM350 224h1v3h-1zM351 227h1v2h-1zM351 228h1v1h-1zM352 229h1v1h-1zM353 230h1v1h-1zM354 231h1v1h-1zM355 232h1v1h-1zM355 232h4v1h-4zM358 232h2v1h-2zM360 231h2v1h-2zM362 230h1v1h-1zM362 230h9v1h-9zM370 230h2v1h-2zM372 229h2v1h-2zM374 228h1v1h-1zM375 229h1v1h-1zM376 230h1v1h-1zM377 231h1v1h-1zM378 232h1v1h-1zM378 232h2v1h-2zM380 231h2v1h-2zM382 230h1v1h-1zM383 229h1v1h-1zM384 228h1v1h-1zM385 227h1v1h-1zM386 226h1v1h-1zM386 226h8v1h-8zM393 226h1v1h-1zM394 227h2v1h-2zM396 228h2v1h-2zM398 229h2v1h-2zM400 230h1v1h-1zM400 230h6v1h-6zM405 230h1v1h-1zM406 231h1v1h-1zM407 232h1v1h-1zM408 233h1v1h-1zM409 234h1v1h-1zM410 235h1v1h-1zM411 236h1v1h-1zM412 237h1v1h-1zM413 238h1v1h-1zM414 239h1v1h-1zM415 240h1v1h-1zM415 240h2v1h-2zM417 239h2v1h-2zM419 238h2v1h-2zM420 238h1v1h-1zM421 239h2v1h-2zM423 240h2v1h-2zM424 240h1v1h-1zM425 239h2v1h-2zM427 238h1v1h-1zM427 238h5v1h-5zM431 238h1v1h-1zM432 239h2v1h-2zM434 240h2v1h-2zM435 240h5v1h-5zM439 240h1v1h-1zM440 241h2v1h-2zM442 242h2v1h-2zM444 243h2v1h-2zM446 244h1v1h-1zM446 244h5v1h-5zM450 244h2v1h-2zM452 243h2v1h-2zM454 242h1v1h-1zM454 242h9v1h-9zM462 242h1v1h-1zM463 243h2v1h-2zM465 244h1v1h-1zM465 244h5v1h-5zM469 244h1v1h-1zM470 245h2v1h-2zM472 246h2v1h-2zM473 246h1v1h-1zM474 245h2v1h-2zM476 244h1v1h-1zM476 244h10v1h-10zM485 244h1v1h-1zM486 245h2v1h-2zM488 246h1v1h-1zM489 245h1v1h-1zM490 244h1v1h-1zM491 243h1v1h-1zM492 242h1v1h-1zM493 243h2v1h-2zM495 244h2v1h-2zM496 244h2v1h-2zM498 243h2v1h-2zM500 242h1v1h-1zM501 243h1v1h-1zM502 244h1v2h-1zM503 246h1v1h-1zM504 247h1v1h-1zM505 248h1v1h-1zM506 249h1v1h-1zM507 250h1v1h-1zM507 250h2v1h-2zM509 249h2v1h-2zM511 248h1v1h-1zM512 249h2v1h-2zM514 250h2v1h-2zM515 250h1v1h-1zM516 249h1v1h-1zM517 248h1v1h-1zM518 247h1v1h-1zM519 246h1v1h-1zM520 247h2v1h-2zM522 248h1v1h-1zM522 248h2v1h-2zM524 247h2v1h-2zM526 246h1v1h-1zM527 247h2v1h-2zM529 248h2v1h-2zM530 248h1v1h-1zM531 247h1v1h-1zM532 246h2v1h-2zM534 245h1v1h-1zM535 244h1v1h-1zM536 243h2v1h-2zM538 242h1v1h-1zM539 241h1v1h-1zM540 240h1v1h-1zM541 239h1v1h-1zM542 238h1v1h-1zM543 239h2v1h-2zM545 240h1v1h-1zM545 240h5v1h-5zM549 240h1v1h-1zM550 241h2v1h-2zM552 242h2v1h-2zM553 242h2v1h-2zM555 241h2v1h-2zM557 240h1v1h-1zM558 239h1v1h-1zM559 238h1v1h-1zM560 236h1v2h-1zM561 235h1v1h-1zM562 234h1v1h-1zM562 234h4v1h-4zM565 234h4v1h-4zM568 234h2v1h-2zM570 233h2v1h-2zM572 232h2v1h-2zM574 231h2v1h-2zM576 230h2v1h-2zM578 229h2v1h-2zM580 228h1v1h-1zM581 229h2v1h-2zM583 230h1v1h-1zM583 230h5v1h-5zM587 230h1v1h-1zM588 231h2v1h-2zM590 232h1v1h-1zM590 232h6v1h-6zM595 232h1v1h-1zM596 231h2v1h-2zM598 230h2v1h-2zM600 229h2v1h-2zM602 228h1v1h-1zM603 229h2v1h-2zM605 230h2v1h-2zM606 230h9v1h-9zM614 230h1v1h-1zM615 231h1v1h-1zM616 232h2v1h-2zM618 233h1v1h-1zM619 234h1v1h-1zM620 235h2v1h-2zM622 236h1v1h-1zM623 237h2v1h-2zM625 238h1v1h-1zM626 237h1v1h-1zM627 236h1v1h-1zM628 235h1v1h-1zM629 234h1v1h-1zM629 234h5v1h-5zM633 234h1v1h-1zM634 235h2v1h-2zM636 236h1v1h-1zM636 236h20v1h-20zM655 236h2v1h-2zM657 235h2v1h-2zM659 234h1v1h-1zM660 235h2v1h-2zM662 236h2v1h-2zM663 236h9v1h-9zM671 236h1v1h-1zM672 237h2v1h-2zM674 238h1v1h-1zM674 238h10v1h-10zM683 238h1v1h-1zM684 237h2v1h-2zM686 236h1v1h-1zM686 236h9v1h-9zM694 236h1v1h-1zM695 235h2v1h-2zM697 234h2v1h-2zM699 233h2v1h-2zM701 232h2v1h-2zM703 231h2v1h-2zM705 230h1v1h-1zM705 230h13v1h-13zM717 230h1v1h-1zM718 231h2v1h-2zM720 232h1v1h-1zM721 233h1v1h-1zM722 234h1v1h-1zM723 235h1v1h-1zM724 236h1v1h-1zM725 235h1v1h-1zM726 234h1v1h-1zM727 233h1v1h-1zM728 232h1v1h-1zM729 233h1v2h-1zM730 235h1v1h-1zM731 236h1v2h-1zM732 238h1v1h-1zM733 239h2v1h-2zM735 240h2v1h-2zM736 240h1v1h-1zM737 239h2v1h-2zM739 238h1v1h-1zM740 239h2v1h-2zM742 240h2v1h-2zM744 241h2v1h-2zM746 242h1v1h-1zM746 242h2v1h-2zM748 241h2v1h-2zM750 240h1v1h-1zM751 241h2v1h-2zM753 242h2v1h-2zM754 242h13v1h-13zM766 242h1v1h-1zM767 241h2v1h-2zM769 240h1v1h-1zM769 240h10v1h-10zM778 240h1v1h-1zM779 239h2v1h-2zM781 238h1v1h-1zM782 239h2v1h-2zM784 240h2v1h-2zM785 240h5v1h-5zM789 240h1v1h-1zM790 239h2v1h-2zM792 238h1v1h-1zM792 238h9v1h-9zM800 238h1v1h-1zM801 239h2v1h-2zM803 240h2v1h-2zM804 240h4v1h-4zM807 240h2v1h-2zM809 239h2v1h-2zM811 238h2v1h-2zM812 238h4v1h-4zM815 238h2v1h-2zM817 237h2v1h-2zM819 236h1v1h-1zM819 236h5v1h-5zM823 236h1v1h-1zM824 235h2v1h-2zM826 234h1v1h-1zM826 234h14v1h-14zM839 234h1v1h-1zM840 235h2v1h-2zM842 236h1v1h-1zM843 235h2v1h-2zM845 234h1v1h-1zM845 234h10v1h-10zM854 234h1v1h-1zM855 233h1v1h-1zM856 232h1v1h-1zM857 231h1v1h-1zM858 230h1v1h-1zM859 231h2v1h-2zM861 232h1v1h-1zM862 233h2v1h-2zM864 234h1v1h-1zM864 234h10v1h-10zM873 234h1v1h-1zM874 233h2v1h-2zM876 232h2v1h-2zM878 231h1v1h-1zM879 230h2v1h-2zM881 229h2v1h-2zM883 228h1v1h-1zM883 228h6v1h-6zM888 228h2v1h-2zM890 227h2v1h-2zM892 226h1v1h-1zM892 226h5v1h-5zM896 226h1v1h-1zM897 227h1v1h-1zM898 228h1v1h-1zM899 229h1v1h-1zM900 230h1v1h-1zM900 230h12v1h-12zM911 230h1v1h-1zM912 231h1v2h-1zM913 233h1v2h-1zM914 235h1v2h-1zM915 237h1v2h-1zM915 238h16v1h-16zM930 238h1v1h-1zM931 239h2v1h-2zM933 240h1v1h-1zM933 240h9v1h-9zM941 240h1v1h-1zM942 241h1v2h-1zM943 243h1v1h-1zM944 244h1v2h-1zM945 246h1v1h-1z"/>
<path fill="#0000c0" d="M47 410h1v1h-1zM48 409h1v1h-1zM49 408h1v1h-1zM50 406h1v2h-1zM51 405h1v1h-1zM52 404h1v1h-1zM52 404h2v1h-2zM54 403h2v1h-2zM56 402h1v1h-1zM56 402h7v1h-7zM62 402h2v1h-2zM64 401h2v1h-2zM66 400h2v1h-2zM68 399h2v1h-2zM70 398h2v1h-2zM71 398h1v1h-1zM72 397h1v1h-1zM73 396h2v1h-2zM75 395h1v1h-1zM76 394h1v1h-1zM76 394h7v1h-7zM82 394h1v1h-1zM83 392h1v2h-1zM84 390h1v1h-1zM84 390h1v2h-1zM85 389h1v1h-1zM86 387h1v2h-1zM87 385h1v2h-1zM87 386h1v1h-1zM88 382h1v3h-1zM89 380h1v2h-1zM89 380h4v1h-4zM92 380h1v1h-1zM93 379h1v1h-1zM94 378h2v1h-2zM96 377h1v1h-1zM97 376h1v1h-1zM98 375h2v1h-2zM100 374h1v1h-1zM101 372h1v2h-1zM102 371h1v1h-1zM103 369h1v2h-1zM104 368h1v1h-1zM104 368h5v1h-5zM108 368h1v1h-1zM109 367h1v1h-1zM110 366h1v1h-1zM111 364h1v2h-1zM112 363h1v1h-1zM113 362h1v1h-1zM113 362h2v1h-2zM115 361h2v1h-2zM117 360h2v1h-2zM118 360h6v1h-6zM123 360h1v1h-1zM124 359h2v1h-2zM126 358h2v1h-2zM128 357h2v1h-2zM130 356h2v1h-2zM132 355h2v1h-2zM134 354h1v1h-1zM134 354h5v1h-5zM138 354h1v1h-1zM139 353h2v1h-2zM141 352h2v1h-2zM143 351h2v1h-2zM145 350h2v1h-2zM147 349h1v1h-1zM148 348h2v1h-2zM150 347h2v1h-2zM152 346h2v1h-2zM154 345h2v1h-2zM156 344h1v1h-1zM156 344h2v1h-2zM158 343h2v1h-2zM160 342h2v1h-2zM162 341h2v1h-2zM164 340h2v1h-2zM165 340h1v1h-1zM166 339h2v1h-2zM168 338h2v1h-2zM170 337h2v1h-2zM172 336h1v1h-1zM172 336h5v1h-5zM176 336h2v1h-2zM178 335h2v1h-2zM180 334h2v1h-2zM182 333h2v1h-2zM184 332h1v1h-1zM185 331h1v1h-1zM186 330h1v1h-1zM187 329h1v1h-1zM188 328h1v1h-1zM188 328h2v1h-2zM190 327h3v1h-3zM193 326h2v1h-2zM194 326h6v1h-6zM199 326h1v1h-1zM200 325h2v1h-2zM202 324h1v1h-1zM202 324h9v1h-9zM210 324h2v1h-2zM212 323h2v1h-2zM214 322h1v1h-1zM214 322h5v1h-5zM218 322h1v1h-1zM219 321h2v1h-2zM221 320h2v1h-2zM223 319h2v1h-2zM225 318h1v1h-1zM225 318h6v1h-6zM230 318h1v1h-1zM231 317h2v1h-2zM233 316h1v1h-1zM234 315h1v1h-1zM235 314h1v1h-1zM236 313h1v1h-1zM237 311h1v2h-1zM237 312h1v1h-1zM238 308h1v3h-1zM239 305h1v3h-1zM240 302h1v3h-1zM241 300h1v1h-1zM241 300h1v2h-1zM242 298h1v2h-1zM243 296h1v2h-1zM244 294h1v2h-1zM245 292h1v1h-1zM245 292h1v2h-1zM246 290h1v2h-1zM247 289h1v1h-1zM248 287h1v2h-1zM249 285h1v2h-1zM249 286h1v1h-1zM250 282h1v3h-1zM251 279h1v3h-1zM252 276h1v3h-1zM253 274h1v1h-1zM253 274h1v2h-1zM254 272h1v2h-1zM255 270h1v2h-1zM256 268h1v2h-1zM257 266h1v1h-1zM257 266h1v2h-1zM258 265h2v1h-2zM260 264h2v1h-2zM262 263h2v1h-2zM264 262h2v1h-2zM266 261h1v1h-1zM267 260h2v1h-2zM269 259h2v1h-2zM271 258h2v1h-2zM273 257h2v1h-2zM275 256h2v1h-2zM277 255h1v1h-1zM278 254h2v1h-2zM280 253h2v1h-2zM282 252h2v1h-2zM284 251h2v1h-2zM286 250h1v1h-1zM286 250h5v1h-5zM290 250h1v1h-1zM291 249h2v1h-2zM293 248h2v1h-2zM295 247h2v1h-2zM297 246h2v1h-2zM299 245h2v1h-2zM301 244h1v1h-1zM301 244h6v1h-6zM306 244h1v1h-1zM307 243h2v1h-2zM309 242h2v1h-2zM311 241h2v1h-2zM313 240h1v1h-1zM314 239h2v1h-2zM316 238h2v1h-2zM318 237h2v1h-2zM320 236h1v1h-1zM321 235h2v1h-2zM323 234h2v1h-2zM325 233h2v1h-2zM327 232h2v1h-2zM329 231h2v1h-2zM331 230h1v1h-1zM332 229h1v1h-1zM333 228h2v1h-2zM335 227h1v1h-1zM336 226h1v1h-1zM337 224h1v2h-1zM338 222h1v2h-1zM339 220h1v2h-1zM340 218h1v1h-1zM340 218h1v2h-1zM341 217h1v1h-1zM342 216h1v1h-1zM343 215h1v1h-1zM344 214h1v1h-1zM344 214h2v1h-2zM346 213h2v1h-2zM348 211h1v2h-1zM348 212h1v1h-1zM349 209h1v2h-1zM350 207h1v2h-1zM351 205h1v1h-1zM351 205h1v2h-1zM352 203h1v2h-1zM353 201h1v2h-1zM354 199h1v2h-1zM354 199h5v1h-5zM358 199h2v1h-2zM360 198h2v1h-2zM362 197h1v1h-1zM362 197h6v1h-6zM367 197h1v1h-1zM368 196h2v1h-2zM370 195h1v1h-1zM370 195h5v1h-5zM374 195h1v1h-1zM375 194h2v1h-2zM377 193h2v1h-2zM379 192h2v1h-2zM381 191h2v1h-2zM383 190h2v1h-2zM385 189h1v1h-1zM385 189h6v1h-6zM390 189h1v1h-1zM391 188h2v1h-2zM393 187h1v1h-1zM394 186h2v1h-2zM396 185h1v1h-1zM396 185h11v1h-11zM406 185h1v1h-1zM407 184h1v1h-1zM408 183h1v1h-1zM409 182h1v1h-1zM410 181h1v1h-1zM411 180h1v1h-1zM412 179h1v1h-1zM412 179h5v1h-5zM416 179h1v1h-1zM417 178h1v1h-1zM418 177h1v1h-1zM419 176h1v1h-1zM420 175h1v1h-1zM421 174h1v1h-1zM422 173h1v1h-1zM422 173h5v1h-5zM426 173h1v1h-1zM427 172h2v1h-2zM429 171h1v1h-1zM429 171h7v1h-7zM435 171h1v1h-1zM436 170h2v1h-2zM438 169h2v1h-2zM440 168h2v1h-2zM442 167h1v1h-1zM442 167h6v1h-6zM447 167h1v1h-1zM448 166h2v1h-2zM450 165h1v1h-1zM450 165h5v1h-5zM454 165h1v1h-1zM455 164h2v1h-2zM457 163h1v1h-1zM457 163h5v1h-5zM461 163h2v1h-2zM463 162h2v1h-2zM465 161h1v1h-1zM465 161h5v1h-5zM469 161h2v1h-2zM471 160h2v1h-2zM473 159h1v1h-1zM473 159h8v1h-8zM480 159h3v1h-3zM483 158h4v1h-4zM487 157h2v1h-2zM488 157h1v1h-1zM489 156h2v1h-2zM491 155h2v1h-2zM493 154h2v1h-2zM495 153h2v1h-2zM497 152h2v1h-2zM499 151h1v1h-1zM499 151h7v1h-7zM505 151h1v1h-1zM506 150h1v1h-1zM507 149h2v1h-2zM509 148h1v1h-1zM510 147h1v1h-1zM510 147h6v1h-6zM515 147h2v1h-2zM517 146h2v1h-2zM519 145h2v1h-2zM521 144h2v1h-2zM523 143h1v1h-1zM523 143h6v1h-6zM528 143h1v1h-1zM529 142h1v1h-1zM530 141h2v1h-2zM532 140h1v1h-1zM533 139h1v1h-1zM533 139h6v1h-6zM538 139h2v1h-2zM540 138h3v1h-3zM543 137h2v1h-2zM544 137h2v1h-2zM546 136h2v1h-2zM548 135h1v1h-1zM548 135h6v1h-6zM553 135h1v1h-1zM554 134h2v1h-2zM556 133h2v1h-2zM558 132h2v1h-2zM560 131h1v1h-1zM560 131h6v1h-6zM565 131h1v1h-1zM566 130h2v1h-2zM568 129h1v1h-1zM569 128h2v1h-2zM571 127h1v1h-1zM571 127h6v1h-6zM576 127h1v1h-1zM577 126h2v1h-2zM579 125h2v1h-2zM581 124h2v1h-2zM583 123h1v1h-1zM583 123h9v1h-9zM591 123h1v1h-1zM592 122h2v1h-2zM594 121h2v1h-2zM596 120h2v1h-2zM598 119h2v1h-2zM600 118h1v1h-1zM601 117h2v1h-2zM603 116h2v1h-2zM605 115h2v1h-2zM607 114h2v1h-2zM609 113h1v1h-1zM609 113h6v1h-6zM614 113h1v1h-1zM615 112h2v1h-2zM617 111h2v1h-2zM619 110h2v1h-2zM621 109h1v1h-1zM621 109h4v1h-4zM624 109h2v1h-2zM626 108h2v1h-2zM628 107h1v1h-1zM628 107h9v1h-9zM636 107h2v1h-2zM638 106h2v1h-2zM640 105h2v1h-2zM641 105h4v1h-4zM644 105h1v1h-1zM645 104h2v1h-2zM647 103h2v1h-2zM649 102h2v1h-2zM651 101h1v1h-1zM651 101h6v1h-6zM656 101h2v1h-2zM658 100h2v1h-2zM660 99h1v1h-1zM660 99h5v1h-5zM664 99h1v1h-1zM665 98h2v1h-2zM667 97h1v1h-1zM667 97h8v1h-8zM674 97h2v1h-2zM676 96h2v1h-2zM678 95h2v1h-2zM679 95h5v1h-5zM683 95h1v1h-1zM684 94h2v1h-2zM686 93h1v1h-1zM687 92h2v1h-2zM689 91h1v1h-1zM689 91h7v1h-7zM695 91h1v1h-1zM696 90h2v1h-2zM698 89h1v1h-1zM698 89h5v1h-5zM702 89h1v1h-1zM703 88h2v1h-2zM705 87h1v1h-1zM705 87h5v1h-5zM709 87h2v1h-2zM711 86h2v1h-2zM713 85h1v1h-1zM713 85h5v1h-5zM717 85h1v1h-1zM718 84h1v1h-1zM719 83h1v1h-1zM720 82h1v1h-1zM721 81h1v1h-1zM721 81h2v1h-2zM723 80h2v1h-2zM725 79h1v1h-1zM726 77h1v2h-1zM727 75h1v2h-1zM728 73h1v1h-1zM728 73h1v2h-1zM729 71h1v2h-1zM730 69h1v2h-1zM731 67h1v2h-1zM732 65h1v2h-1zM732 65h9v1h-9zM740 65h1v1h-1zM741 64h2v1h-2zM743 63h1v1h-1zM744 62h2v1h-2zM746 61h1v1h-1zM746 61h6v1h-6zM751 61h1v1h-1zM752 60h2v1h-2zM754 59h1v1h-1zM754 59h5v1h-5zM758 59h2v1h-2zM760 58h2v1h-2zM762 57h2v1h-2zM763 57h8v1h-8zM770 57h1v1h-1zM771 56h2v1h-2zM773 55h2v1h-2zM775 54h2v1h-2zM777 53h1v1h-1zM777 53h6v1h-6zM782 53h1v1h-1zM783 52h2v1h-2zM785 51h1v1h-1zM785 51h5v1h-5zM789 51h1v1h-1zM790 50h2v1h-2zM792 49h2v1h-2zM794 48h2v1h-2zM796 47h1v1h-1zM796 47h9v1h-9zM804 47h1v1h-1zM805 46h2v1h-2zM807 45h2v1h-2zM809 44h2v1h-2zM811 43h1v1h-1zM811 43h6v1h-6zM816 43h1v1h-1zM817 42h2v1h-2zM819 41h1v1h-1zM819 41h4v1h-4zM822 41h2v1h-2zM824 40h2v1h-2zM826 39h2v1h-2zM827 39h4v1h-4zM830 39h2v1h-2zM832 38h2v1h-2zM834 37h1v1h-1zM834 37h5v1h-5zM838 37h2v1h-2zM840 36h2v1h-2zM842 35h1v1h-1zM842 35h9v1h-9zM850 35h1v1h-1zM851 34h2v1h-2zM853 33h2v1h-2zM855 32h2v1h-2zM857 31h1v1h-1zM857 31h4v1h-4zM860 31h2v1h-2zM862 30h2v1h-2zM864 29h1v1h-1zM864 29h6v1h-6zM869 29h1v1h-1zM870 28h2v1h-2zM872 27h1v1h-1zM872 27h5v1h-5zM876 27h2v1h-2zM878 26h2v1h-2zM880 25h2v1h-2zM881 25h4v1h-4zM884 25h2v1h-2zM886 24h2v1h-2zM888 23h1v1h-1zM888 23h4v1h-4zM891 23h2v1h-2zM893 22h2v1h-2zM895 21h1v1h-1zM895 21h7v1h-7zM901 21h1v1h-1zM902 20h1v1h-1zM903 19h2v1h-2zM905 18h1v1h-1zM906 17h1v1h-1zM906 17h9v1h-9zM914 17h2v1h-2zM916 16h2v1h-2zM918 15h1v1h-1zM918 15h5v1h-5zM922 15h1v1h-1zM923 14h2v1h-2zM925 13h1v1h-1zM925 13h10v1h-10zM934 13h1v1h-1zM935 12h2v1h-2zM937 11h1v1h-1zM937 11h6v1h-6zM942 11h1v1h-1zM943 10h2v1h-2zM945 9h1v1h-1z"/>
</g>
</svg>
</body></html>
